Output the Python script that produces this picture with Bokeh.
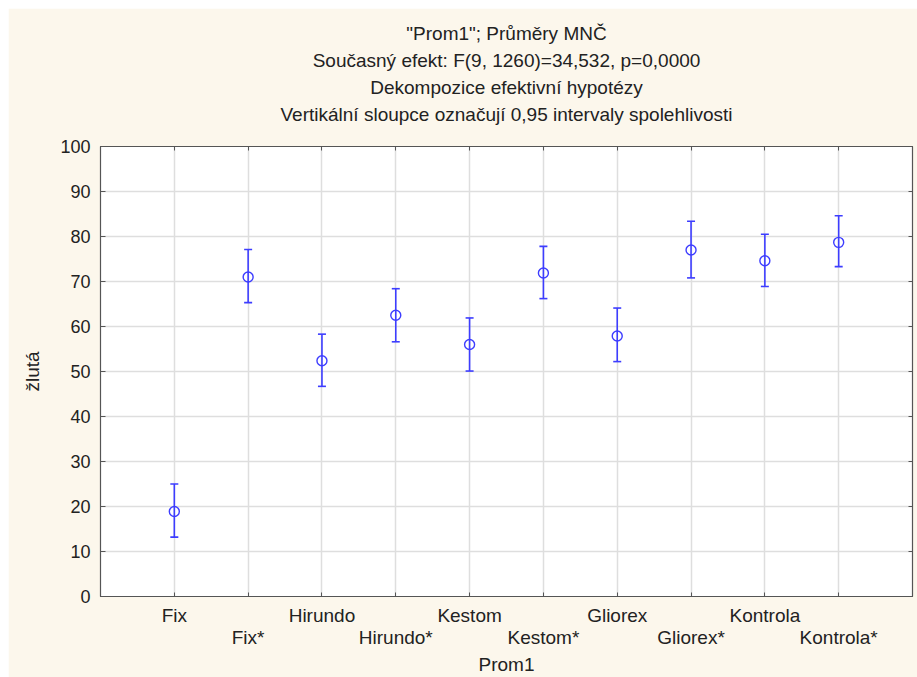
from bokeh.plotting import figure
from bokeh.models import (Range1d, FixedTicker, Title, LinearAxis, Whisker, Grid,
                          ColumnDataSource, TeeHead, CustomLabelingPolicy)
from bokeh.embed import file_html
from bokeh.resources import INLINE

# ---- data ----
categories = ["Fix", "Fix*", "Hirundo", "Hirundo*", "Kestom", "Kestom*",
              "Gliorex", "Gliorex*", "Kontrola", "Kontrola*"]
means = [18.9, 71.0, 52.4, 62.5, 56.0, 71.9, 57.9, 77.0, 74.6, 78.7]
upper = [25.0, 77.1, 58.3, 68.4, 61.9, 77.8, 64.1, 83.4, 80.5, 84.6]
lower = [13.2, 65.3, 46.7, 56.6, 50.1, 66.2, 52.2, 70.8, 68.9, 73.3]
y_ticks = [0, 10, 20, 30, 40, 50, 60, 70, 80, 90, 100]
title_lines = ['"Prom1"; Průměry MNČ',
               'Současný efekt: F(9, 1260)=34,532, p=0,0000',
               'Dekompozice efektivní hypotézy',
               'Vertikální sloupce označují 0,95 intervaly spolehlivosti']
x_label = "Prom1"
y_label = "žlutá"

xs = [i + 1 for i in range(len(categories))]

FONT = "Liberation Sans"
BLUE = "#3d3dff"
CREAM = "#fcf7ec"
TXT = "#222222"
EDGE = "#555555"

p = figure(width=909, height=669, output_backend="svg", toolbar_location=None,
           x_range=Range1d(0, len(categories) + 1), y_range=Range1d(0, 100),
           x_axis_type=None, y_axis_type=None,
           title=None, min_border_left=92, min_border_right=4,
           min_border_top=138, min_border_bottom=81, margin=(8, 0, 0, 8))

p.background_fill_color = "white"
p.border_fill_color = CREAM
p.outline_line_color = EDGE
p.outline_line_width = 1.2

x_ticker = FixedTicker(ticks=xs)
y_ticker = FixedTicker(ticks=y_ticks)


def no_labels():
    return CustomLabelingPolicy(
        code="for (const i of indices) { indices.unset(i) }\nreturn indices")


# mirror axes (ticks only) -- added first so they hug the frame
ta = LinearAxis(ticker=x_ticker, major_tick_in=4, major_tick_out=0,
                minor_tick_line_color=None, major_label_policy=no_labels(),
                major_label_text_font_size="1px",
                major_label_standoff=16, axis_line_color=EDGE,
                major_tick_line_color=EDGE)
p.add_layout(ta, "above")
ra = LinearAxis(ticker=y_ticker, major_tick_in=4, major_tick_out=0,
                minor_tick_line_color=None, major_label_policy=no_labels(),
                major_label_text_font_size="1px",
                major_label_standoff=0, axis_line_color=EDGE,
                major_tick_line_color=EDGE)
p.add_layout(ra, "right")

# titles (first added sits closest to the plot)
for t in reversed(title_lines):
    p.add_layout(Title(text=t, align="center", text_font=FONT,
                       text_font_size="19px", text_font_style="normal",
                       text_color=TXT, standoff=4), "above")

# bottom x axis with staggered category labels
xa = LinearAxis(ticker=x_ticker)
xa.major_label_overrides = {x: (c if i % 2 == 0 else "\n" + c)
                            for i, (x, c) in enumerate(zip(xs, categories))}
xa.major_label_text_font = FONT
xa.major_label_text_font_size = "19px"
xa.major_label_text_line_height = 1.05
xa.major_label_text_color = TXT
xa.major_label_standoff = 8
xa.major_tick_in = 4
xa.major_tick_out = 0
xa.minor_tick_line_color = None
xa.axis_line_color = EDGE
xa.major_tick_line_color = EDGE
xa.axis_label = x_label
xa.axis_label_text_font = FONT
xa.axis_label_text_font_size = "19px"
xa.axis_label_text_font_style = "normal"
xa.axis_label_text_color = TXT
xa.axis_label_standoff = 3
p.add_layout(xa, "below")

# left y axis
ya = LinearAxis(ticker=y_ticker)
ya.major_label_text_font = FONT
ya.major_label_text_font_size = "18px"
ya.major_label_text_color = TXT
ya.major_label_standoff = 10
ya.major_tick_in = 5
ya.major_tick_out = 0
ya.minor_tick_line_color = None
ya.axis_line_color = EDGE
ya.major_tick_line_color = EDGE
ya.axis_label = y_label
ya.axis_label_text_font = FONT
ya.axis_label_text_font_size = "19px"
ya.axis_label_text_font_style = "normal"
ya.axis_label_text_color = TXT
ya.axis_label_standoff = 14
p.add_layout(ya, "left")

for dim, tk in ((0, x_ticker), (1, y_ticker)):
    p.add_layout(Grid(dimension=dim, ticker=tk, grid_line_color="#dedede",
                      grid_line_width=1.5))

src = ColumnDataSource(dict(x=xs, mean=means, upper=upper, lower=lower))
w = Whisker(source=src, base="x", upper="upper", lower="lower", dimension="height",
            line_color=BLUE, line_width=1.6,
            upper_head=TeeHead(size=8, line_color=BLUE, line_width=1.6),
            lower_head=TeeHead(size=8, line_color=BLUE, line_width=1.6))
p.add_layout(w)
p.scatter("x", "mean", source=src, marker="circle", size=10, fill_color=None,
          line_color=BLUE, line_width=1.4)

open("out.html", "w").write(file_html(p, INLINE))
